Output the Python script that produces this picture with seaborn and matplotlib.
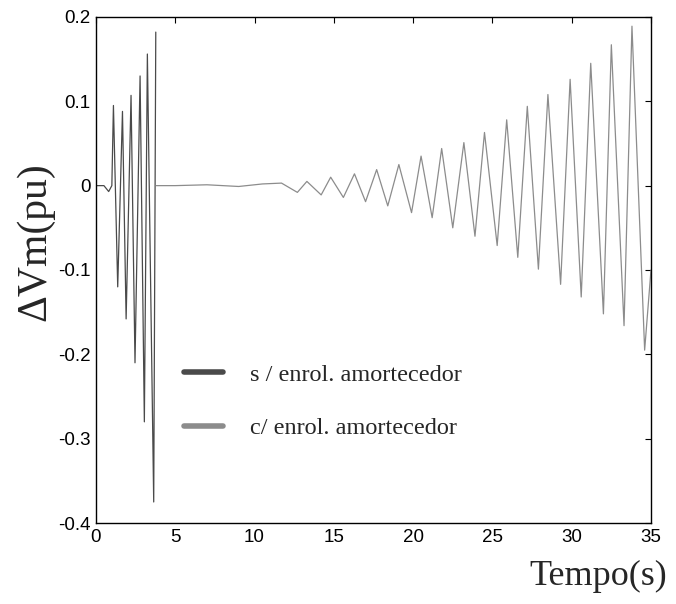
import matplotlib
matplotlib.use("Agg")
import matplotlib.pyplot as plt
import seaborn as sns
import pandas as pd

# --- data ---
s_label = "s / enrol. amortecedor"
c_label = "c/ enrol. amortecedor"

s_time = [0.0, 0.5, 0.8, 1.0, 1.10, 1.37, 1.67, 1.90, 2.21, 2.46, 2.78, 3.05,
          3.24, 3.64, 3.77]
s_value = [0.0, 0.0, -0.007, 0.0, 0.095, -0.120, 0.088, -0.158, 0.107, -0.210,
           0.130, -0.280, 0.156, -0.375, 0.182]

c_time = [3.8, 5.0, 7.0, 9.0, 10.5, 11.7, 12.7, 13.3, 14.2, 14.8, 15.6, 16.3,
          17.0, 17.7, 18.4, 19.1, 19.9, 20.5, 21.2, 21.8, 22.5, 23.2, 23.9,
          24.5, 25.3, 25.9, 26.6, 27.2, 27.9, 28.5, 29.3, 29.9, 30.6, 31.2,
          32.0, 32.5, 33.3, 33.8, 34.6, 35.0]
c_value = [0.0, 0.0, 0.001, -0.001, 0.002, 0.003, -0.008, 0.005, -0.011, 0.010,
           -0.014, 0.014, -0.019, 0.019, -0.024, 0.025, -0.032, 0.035, -0.038,
           0.044, -0.050, 0.051, -0.060, 0.063, -0.071, 0.078, -0.085, 0.094,
           -0.099, 0.108, -0.117, 0.126, -0.132, 0.145, -0.152, 0.167, -0.166,
           0.189, -0.195, -0.100]

x_ticks = [0, 5, 10, 15, 20, 25, 30, 35]
y_ticks = [0.2, 0.1, 0.0, -0.1, -0.2, -0.3, -0.4]
y_tick_labels = ["0.2", "0.1", "0", "-0.1", "-0.2", "-0.3", "-0.4"]

df = pd.concat([
    pd.DataFrame({"t": s_time, "v": s_value, "serie": s_label}),
    pd.DataFrame({"t": c_time, "v": c_value, "serie": c_label}),
], ignore_index=True)

sns.set_style("white")
plt.rcParams["font.family"] = ["Liberation Sans", "DejaVu Sans"]

fig = plt.figure(figsize=(6.76, 6.04), dpi=100)
ax = fig.add_axes([0.142, 0.134, 0.821, 0.838])

sns.lineplot(data=df, x="t", y="v", hue="serie", sort=False, estimator=None,
             palette={s_label: "#4a4a4a", c_label: "#8c8c8c"},
             linewidth=0.9, ax=ax)

ax.set_xlim(0, 35)
ax.set_ylim(-0.4, 0.2)
ax.set_xticks(x_ticks)
ax.set_xticklabels([str(v) for v in x_ticks])
ax.set_yticks(y_ticks)
ax.set_yticklabels(y_tick_labels)
ax.tick_params(direction="in", length=4, width=0.8, labelsize=13.5,
               top=True, right=True, colors="black", pad=4)
for sp in ax.spines.values():
    sp.set_visible(True)
    sp.set_color("black")
    sp.set_linewidth(1.0)

ax.set_xlabel("")
ax.set_ylabel("")
fig.text(0.052, 0.60, "\u0394Vm(pu)", rotation=90, ha="center", va="center",
         fontsize=30, family=["Liberation Serif", "DejaVu Serif"])
fig.text(0.885, 0.045, "Tempo(s)", ha="center", va="center",
         fontsize=26, family=["Liberation Serif", "DejaVu Serif"])

leg = ax.legend(loc="center left", bbox_to_anchor=(0.12, 0.24), frameon=False,
                prop={"family": "Liberation Serif", "size": 17.5},
                handlelength=1.6, handletextpad=1.1, labelspacing=1.3)
for h in leg.legend_handles:
    h.set_linewidth(4)

fig.savefig("out.png", dpi=100, facecolor="white")
